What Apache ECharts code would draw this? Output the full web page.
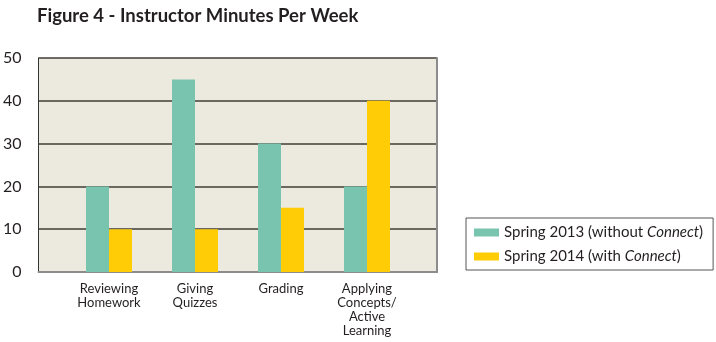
<!DOCTYPE html>
<html>
<head>
<meta charset="utf-8">
<script src="https://cdn.jsdelivr.net/npm/echarts@6/dist/echarts.min.js"></script>
<style>
html,body{margin:0;padding:0;background:#fff;}
#chart{width:716px;height:342px;}
</style>
</head>
<body>
<div id="chart"></div>
<script>
var categories = ['Reviewing\nHomework', 'Giving\nQuizzes', 'Grading', 'Applying\nConcepts/\nActive\nLearning'];
var spring2013 = [20, 45, 30, 20];
var spring2014 = [10, 10, 15, 40];
var yTicks = [0, 10, 20, 30, 40, 50];

var FONT = 'Lato';
var chart = echarts.init(document.getElementById('chart'));
chart.setOption({
  animation: false,
  backgroundColor: '#ffffff',
  title: {
    text: 'Figure 4 - Instructor Minutes Per Week',
    left: 37, top: 7, padding: 0,
    textStyle: {fontFamily: FONT, fontSize: 18.5, fontWeight: 'bold', color: '#231f20'}
  },
  legend: {
    orient: 'vertical',
    left: 466, top: 218,
    padding: [7, 10, 6, 8],
    itemGap: 9,
    itemWidth: 25, itemHeight: 8,
    icon: 'rect',
    borderColor: '#555',
    borderWidth: 1,
    data: ['Spring 2013 (without Connect)', 'Spring 2014 (with Connect)'],
    formatter: function (name) {
      var m = name.match(/^(.*)Connect(\))$/);
      return '{a|' + m[1] + '}{i|Connect}{a|' + m[2] + '}';
    },
    textStyle: {
      fontFamily: FONT, fontSize: 15, color: '#231f20',
      rich: {
        a: {fontFamily: FONT, fontSize: 15, color: '#231f20'},
        i: {fontFamily: FONT, fontSize: 15, color: '#231f20', fontStyle: 'italic'}
      }
    }
  },
  grid: [
    {left: 38, top: 58, width: 399, height: 214, show: true, backgroundColor: '#ECE9DE', borderWidth: 0},
    {left: 66, top: 58, width: 344, height: 214}
  ],
  xAxis: [
    {gridIndex: 0, type: 'value', min: 0, max: 1,
      axisLine: {show: true, lineStyle: {color: '#8c8c8c', width: 2}},
      axisTick: {show: false}, axisLabel: {show: false}, splitLine: {show: false}},
    {gridIndex: 1, type: 'category', data: categories,
      axisLine: {show: false}, axisTick: {show: false},
      axisLabel: {fontFamily: FONT, fontSize: 13, lineHeight: 14, color: '#231f20', margin: 10, interval: 0}}
  ],
  yAxis: [
    {gridIndex: 0, type: 'value', min: 0, max: 50, interval: 10,
      axisLine: {show: true, lineStyle: {color: '#333', width: 1}},
      axisTick: {show: false},
      axisLabel: {fontFamily: FONT, fontSize: 16, color: '#231f20', margin: 17,
        formatter: function (v) { return yTicks.indexOf(v) >= 0 ? String(v) : ''; }},
      splitLine: {show: true, lineStyle: {color: '#403c38', width: 1.5}}},
    {gridIndex: 0, type: 'value', position: 'right', min: 0, max: 50,
      axisLine: {show: true, lineStyle: {color: '#8c8c8c', width: 2}},
      axisTick: {show: false}, axisLabel: {show: false}, splitLine: {show: false}},
    {gridIndex: 1, type: 'value', min: 0, max: 50, show: false}
  ],
  series: [
    {name: 'Spring 2013 (without Connect)', type: 'bar', xAxisIndex: 1, yAxisIndex: 2,
      data: spring2013, barWidth: 23, barGap: '0%', itemStyle: {color: '#78C4AE'}},
    {name: 'Spring 2014 (with Connect)', type: 'bar', xAxisIndex: 1, yAxisIndex: 2,
      data: spring2014, barWidth: 23, barGap: '0%', itemStyle: {color: '#FFCC05'}}
  ]
});
</script>
</body>
</html>
